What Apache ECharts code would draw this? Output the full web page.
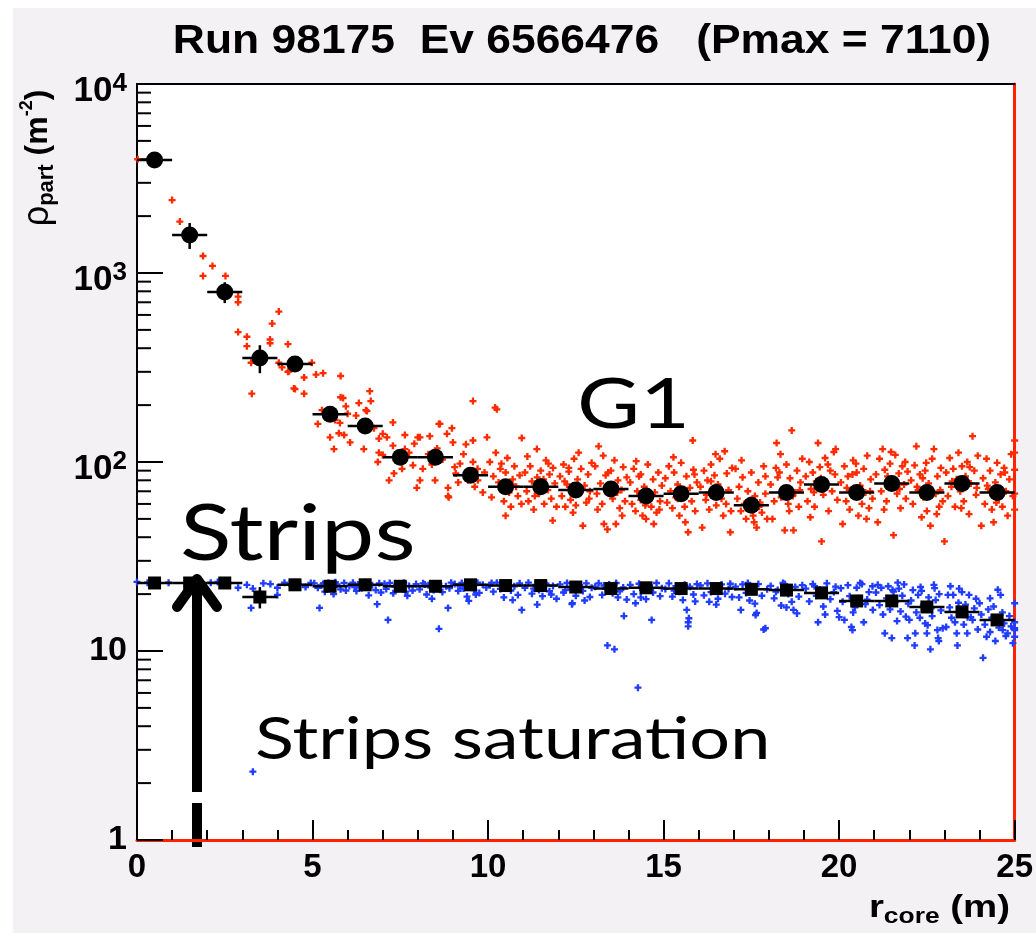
<!DOCTYPE html>
<html><head><meta charset="utf-8">
<script src="https://cdn.jsdelivr.net/npm/echarts@6/dist/echarts.min.js"></script>
<style>html,body{margin:0;padding:0;background:#fff}#c{width:1036px;height:933px}</style>
</head><body><div id="c"></div>
<script>
// ---- data ----
const rBins = [0.5,1.5,2.5,3.5,4.5,5.5,6.5,7.5,8.5,9.5,10.5,11.5,12.5,13.5,14.5,15.5,16.5,17.5,18.5,19.5,20.5,21.5,22.5,23.5,24.5];
const g1Values = [3960,1590,793,355,330,179,155,106,106,85,74,74,71,72,66,68,69,59,69,76,69,77,69,77,69];
const g1Errors = [150,250,100,60,25,15,12,8,8,6,5,5,4,4,4,4,4,4,4,4,4,4,4,4,4];
const stripValues = [22.9,22.9,22.9,19.3,22.4,22.0,22.4,22.0,22.0,22.4,22.2,22.2,21.8,21.4,21.6,21.4,21.4,21.2,21.0,20.3,18.4,18.4,17.1,16.1,14.6];
const stripErrors = [0.4,0.4,0.4,2.5,0.4,0.4,0.4,0.4,0.4,0.4,0.4,0.4,0.4,0.4,0.4,0.4,0.4,0.4,0.4,0.4,0.4,0.4,0.4,0.4,0.4];
const yMinorTickValues = [2,3,4,5,6,7,8,9,20,30,40,50,60,70,80,90,200,300,400,500,600,700,800,900,2000,3000,4000,5000,6000,7000,8000,9000];
const yTickLabels = {1:'{c|1}',10:'{c|10}',100:'{b|10}{s|2}',1000:'{b|10}{s|3}',10000:'{b|10}{s|4}'};
const titleText = 'Run 98175  Ev 6566476   (Pmax = 7110)';

const redPoints = [
[0.02,4000],[1.0,2430],[1.22,1870],[1.88,1230],[2.15,1090],[1.88,965],[2.52,965],[2.88,750],[2.88,700],[2.88,487],[3.13,460],[3.13,410],[3.27,230],[3.25,335],[3.79,445],[3.79,425],[3.85,540],[4.04,625],[4.3,420],[4.04,335],[4.13,317],[4.33,302],[4.3,300],[4.47,245],[4.5,243],[4.76,280],[4.76,230],[4.98,335],
[5.1,290],[5.3,295],[5.8,285],[5.8,220],[5.87,218],[5.15,159],[5.27,188],[5.64,167],[5.78,161],[6.0,180],[6.32,205],[6.52,188],[6.63,237],[6.66,210],[5.5,135],[5.61,117],[5.75,142],[5.9,139],[6.07,127],[6.24,176],[6.46,117],[6.75,151],[6.89,133],[6.89,112],[6.86,100],[6.55,186],[5.95,197],
[7.0,141],[7.12,135],[7.29,162],[7.0,109],[7.29,122],[7.63,139],[8.0,135],[8.34,137],[8.6,159],[8.97,151],[8.83,141],[9.0,127],[9.37,124],[9.57,210],[9.57,130],[9.97,135],[7.63,117],[7.86,96],[8.14,92],[7.32,87],[7.18,80],[8.06,80],[7.97,73],[8.49,80],[8.86,73],[9.05,94],[9.08,87],[9.43,80],[8.88,65],[9.71,80],[9.85,69],[9.57,100],[8.06,135],[8.63,159],[8.86,66],[7.45,104],[7.75,112],[8.3,110],[8.7,103],[9.2,98],[9.7,92],[7.55,92],[8.4,97],[9.3,110],[9.9,88],[7.9,125],[8.55,118],[9.15,78],[9.62,74],
[10.05,100],[10.1,65],[10.2,194],[10.25,190],[10.15,84],[10.3,78],[10.35,92],[10.4,71],[10.45,62],[10.5,88],[10.55,105],[10.6,69],[10.65,58],[10.7,81],[10.75,95],[10.8,74],[10.85,66],[10.9,85],[10.96,134],[10.95,60],[10.22,112],[10.5,52],[10.68,76],[10.38,98],
[11.05,88],[11.1,70],[11.15,62],[11.2,95],[11.25,79],[11.3,56],[11.39,117],[11.4,83],[11.45,68],[11.5,90],[11.55,74],[11.6,60],[11.65,102],[11.7,71],[11.75,86],[11.84,49],[11.8,64],[11.85,93],[11.9,77],[11.95,58],[11.12,107],[11.58,81],[11.33,66],[11.72,98],
[12.05,84],[12.1,66],[12.15,97],[12.2,58],[12.25,76],[12.3,89],[12.35,63],[12.4,72],[12.45,104],[12.5,59],[12.55,81],[12.6,68],[12.7,46],[12.65,92],[12.75,75],[12.8,61],[12.85,86],[12.9,70],[12.95,99],[12.18,79],[12.42,54],[12.58,112],[12.88,64],[12.3,93],
[13.05,95],[13.1,68],[13.15,121],[13.2,77],[13.25,60],[13.3,47],[13.35,85],[13.4,44],[13.45,73],[13.5,90],[13.55,64],[13.6,102],[13.64,47],[13.7,80],[13.75,57],[13.8,71],[13.85,94],[13.9,62],[13.95,83],[13.12,56],[13.42,88],[13.68,69],[13.28,108],[13.82,52],
[14.05,78],[14.1,60],[14.15,92],[14.2,55],[14.25,70],[14.3,84],[14.35,63],[14.4,52],[14.45,74],[14.5,50],[14.55,97],[14.6,66],[14.65,58],[14.7,81],[14.75,69],[14.8,54],[14.85,88],[14.9,62],[14.95,75],[14.22,101],[14.48,59],[14.72,47],[14.35,86],[14.88,56],
[15.05,82],[15.1,61],[15.15,95],[15.2,70],[15.25,57],[15.3,88],[15.35,65],[15.4,76],[15.45,52],[15.5,99],[15.55,69],[15.6,58],[15.65,84],[15.7,42.5],[15.75,73],[15.8,62],[15.83,130],[15.85,91],[15.9,55],[15.95,78],[15.28,106],[15.62,48],[15.4,64],[15.88,86],
[16.05,74],[16.1,45],[16.15,90],[16.2,63],[16.25,80],[16.3,56],[16.35,97],[16.4,68],[16.45,85],[16.5,59],[16.55,76],[16.6,104],[16.65,64],[16.74,114],[16.7,52],[16.8,87],[16.85,71],[16.9,42.5],[16.95,93],[16.22,67],[16.48,110],[16.78,60],[16.35,79],[16.92,55],
[17.05,92],[17.1,64],[17.15,74],[17.2,55],[17.25,83],[17.3,60],[17.35,50],[17.4,70],[17.45,57],[17.5,88],[17.55,52],[17.6,66],[17.65,45],[17.7,78],[17.75,61],[17.8,54],[17.85,95],[17.9,68],[17.95,50],[17.22,102],[17.48,63],[17.72,58],[17.58,48],[17.9,84],
[18.05,76],[18.1,50],[18.22,126],[18.25,83],[18.3,88],[18.35,65],[18.45,43.5],[18.4,72],[18.5,97],[18.55,60],[18.6,82],[18.65,147],[18.7,43.5],[18.75,69],[18.8,90],[18.85,58],[18.9,78],[18.95,104],[18.15,62],[18.2,93],[18.58,55],[18.88,71],[18.33,110],[18.68,66],
[19.05,84],[19.1,62],[19.15,100],[19.2,72],[19.25,88],[19.3,58],[19.4,126],[19.35,79],[19.45,94],[19.5,38],[19.55,67],[19.6,105],[19.65,76],[19.7,55],[19.75,90],[19.8,70],[19.85,113],[19.9,117],[19.95,63],[19.18,51],[19.48,82],[19.68,97],[19.28,69],[19.88,86],
[20.05,78],[20.1,47],[20.15,95],[20.2,62],[20.25,84],[20.3,56],[20.35,71],[20.4,102],[20.45,66],[20.5,88],[20.55,52],[20.6,75],[20.65,60],[20.7,92],[20.75,69],[20.8,108],[20.85,57],[20.9,81],[20.95,64],[20.22,73],[20.48,98],[20.78,50],[20.38,86],[20.88,70],
[21.05,86],[21.1,48],[21.15,104],[21.24,117],[21.2,70],[21.3,91],[21.35,62],[21.4,80],[21.45,98],[21.55,41],[21.5,74],[21.6,109],[21.65,68],[21.7,87],[21.75,57],[21.8,95],[21.85,76],[21.9,64],[21.95,89],[21.28,56],[21.48,113],[21.72,72],[21.38,84],[21.88,100],
[22.05,80],[22.1,60],[22.15,96],[22.2,121],[22.25,71],[22.35,51],[22.3,86],[22.4,65],[22.45,90],[22.5,55],[22.6,46],[22.55,77],[22.65,104],[22.7,117],[22.75,68],[22.8,84],[22.85,58],[22.9,93],[22.95,62],[22.22,74],[22.48,99],[22.78,53],[22.38,82],[22.88,71],
[23.0,38],[23.05,88],[23.1,66],[23.15,105],[23.2,74],[23.25,92],[23.3,58],[23.35,81],[23.4,112],[23.45,70],[23.5,95],[23.55,62],[23.6,84],[23.65,100],[23.7,53],[23.75,77],[23.8,137],[23.85,90],[23.9,67],[23.95,108],[23.22,79],[23.48,57],[23.72,94],[23.92,73],
[24.05,46],[24.1,82],[24.15,60],[24.2,104],[24.25,72],[24.3,90],[24.35,56],[24.4,48],[24.45,78],[24.5,99],[24.55,64],[24.6,86],[24.65,58],[24.7,93],[24.75,70],[24.8,52],[24.85,81],[24.9,110],[24.95,66],[24.22,75],[24.48,61],[24.72,88],[25.0,130],[25.0,112],[25.0,91],[25.0,68],[25.0,56]
];

const bluePoints = [
[0.0,23.2],[0.3,23.0],[0.5,23.2],[0.9,23.0],[1.5,23.2],[1.6,23.1],[2.1,23.0],[2.3,23.2],[2.6,22.9],[2.88,21.6],[3.13,22.4],[3.3,21.4],[3.25,16.9],[3.3,2.3],[3.6,22.8],[3.8,22.6],[4.0,19.8],[4.0,21.6],[4.2,23.0],[4.35,22.6],[4.5,23.1],[4.65,22.4],[4.8,21.8],[4.95,22.9],
[5.05,22.8],[5.15,21.6],[5.2,16.9],[5.25,22.2],[5.35,20.6],[5.45,23.0],[5.55,21.9],[5.6,20.0],[5.7,22.5],[5.8,21.2],[5.9,22.9],[5.95,20.9],[5.3,22.6],[5.65,23.1],
[6.05,22.1],[6.15,23.0],[6.25,20.8],[6.3,22.5],[6.4,21.5],[6.5,23.1],[6.6,19.7],[6.7,22.3],[6.84,17.7],[6.8,21.0],[6.9,22.8],[6.95,20.4],[6.45,22.0],[6.2,21.8],
[7.05,22.7],[7.15,14.6],[7.1,21.3],[7.2,22.9],[7.3,20.2],[7.4,22.4],[7.5,21.6],[7.6,23.0],[7.7,19.6],[7.75,22.1],[7.85,20.9],[7.95,22.6],[7.35,21.9],[7.65,20.6],
[8.05,21.2],[8.15,22.8],[8.25,19.9],[8.3,22.3],[8.45,21.0],[8.6,13.1],[8.6,22.7],[8.7,20.5],[8.8,22.0],[8.86,16.9],[8.9,21.5],[8.95,23.0],[8.4,18.9],[8.2,22.5],
[9.05,22.6],[9.15,20.8],[9.25,22.9],[9.3,21.4],[9.4,19.4],[9.5,22.2],[9.6,21.0],[9.7,23.0],[9.75,20.3],[9.85,22.4],[9.95,21.7],[9.45,18.4],[9.2,22.0],[9.65,19.9],
[10.05,22.3],[10.15,20.6],[10.25,23.0],[10.35,21.3],[10.45,19.2],[10.55,22.6],[10.65,20.9],[10.75,22.0],[10.85,19.8],[10.96,16.5],[10.9,22.8],[10.4,21.8],[10.7,18.6],[10.1,22.9],
[11.05,21.6],[11.15,23.0],[11.25,20.1],[11.35,22.4],[11.45,21.0],[11.55,19.5],[11.65,22.7],[11.75,20.7],[11.85,22.1],[11.95,18.9],[11.3,21.4],[11.6,22.9],[11.8,19.9],[11.4,17.6],
[12.05,22.5],[12.15,20.4],[12.25,22.9],[12.39,17.7],[12.4,17.9],[12.35,21.2],[12.5,19.6],[12.6,22.3],[12.7,20.8],[12.8,22.8],[12.9,19.3],[12.95,21.6],[12.45,22.0],[12.75,18.5],[12.2,21.0],
[13.05,21.9],[13.15,22.8],[13.25,19.8],[13.35,21.3],[13.4,10.7],[13.45,22.5],[13.55,20.2],[13.6,10.2],[13.65,22.9],[13.75,20.7],[13.87,15.3],[13.85,21.7],[13.95,18.7],[13.3,22.2],[13.7,19.2],
[14.05,22.4],[14.15,20.0],[14.2,17.9],[14.27,6.4],[14.3,22.7],[14.4,21.0],[14.5,18.8],[14.6,22.2],[14.66,14.6],[14.7,20.4],[14.8,22.9],[14.9,19.5],[14.95,21.5],[14.35,19.2],[14.55,21.8],
[15.05,21.3],[15.15,22.8],[15.25,19.4],[15.35,22.0],[15.45,20.6],[15.55,18.6],[15.66,16.5],[15.7,14.2],[15.7,13.5],[15.72,14.9],[15.75,21.9],[15.85,19.9],[15.95,22.6],[15.3,20.9],[15.6,22.4],[15.9,18.3],
[16.05,22.2],[16.15,19.7],[16.25,22.8],[16.35,20.5],[16.45,21.7],[16.55,18.9],[16.65,22.5],[16.75,20.1],[16.85,21.3],[16.95,19.3],[16.3,18.2],[16.6,22.0],[16.9,22.7],[16.5,17.6],
[17.05,21.9],[17.15,19.2],[17.2,16.5],[17.25,22.5],[17.35,20.3],[17.45,18.5],[17.55,21.6],[17.65,15.9],[17.62,15.5],[17.7,22.6],[17.85,13.0],[17.9,13.2],[17.8,19.6],[17.95,21.2],[17.4,22.9],[17.6,17.8],
[18.05,22.1],[18.15,19.0],[18.25,21.0],[18.35,17.4],[18.45,22.6],[18.55,20.0],[18.65,18.2],[18.7,16.5],[18.75,21.8],[18.85,19.4],[18.95,22.3],[18.2,20.6],[18.5,17.0],[18.8,15.8],[18.4,22.9],
[19.05,21.4],[19.15,18.3],[19.25,22.6],[19.35,19.6],[19.4,14.2],[19.45,21.1],[19.55,17.2],[19.65,22.8],[19.75,18.8],[19.85,20.5],[19.95,16.3],[19.3,22.0],[19.6,15.6],[19.9,21.9],[19.5,19.9],
[20.0,15.1],[20.15,14.6],[20.35,13.4],[20.38,12.9],[20.7,14.2],[20.96,16.5],[20.05,21.5],[20.1,18.2],[20.25,22.3],[20.3,19.5],[20.45,17.0],[20.5,21.6],[20.55,19.0],[20.65,22.6],[20.75,17.7],[20.85,20.5],[20.95,22.0],[20.4,16.0],[20.8,18.7],[20.6,22.9],
[21.3,12.4],[21.5,11.7],[21.95,11.7],[21.05,20.4],[21.1,22.4],[21.15,17.5],[21.2,21.6],[21.25,15.6],[21.35,19.0],[21.4,22.0],[21.45,16.6],[21.55,20.6],[21.6,18.2],[21.65,14.4],[21.7,21.4],[21.75,16.2],[21.8,19.6],[21.85,22.5],[21.9,15.2],[21.97,17.8],[21.52,21.0],[21.67,23.0],
[22.0,14.6],[22.15,10.7],[22.17,12.4],[22.5,12.4],[22.52,13.7],[22.6,10.2],[22.7,22.4],[22.72,21.5],[22.8,12.9],[22.82,11.7],[22.84,11.3],[22.05,18.5],[22.1,21.0],[22.2,16.0],[22.25,19.8],[22.3,15.0],[22.35,20.8],[22.4,17.6],[22.45,14.0],[22.55,19.2],[22.62,16.8],[22.65,15.3],[22.75,18.6],[22.85,20.0],[22.9,16.4],[22.95,13.2],[22.32,21.8],
[23.05,13.4],[23.35,12.4],[23.37,10.7],[23.65,12.4],[23.66,15.1],[23.75,15.1],[23.1,19.8],[23.15,17.0],[23.2,15.0],[23.25,19.8],[23.3,14.2],[23.4,18.0],[23.45,16.3],[23.5,20.5],[23.55,13.8],[23.6,17.6],[23.7,19.8],[23.8,14.6],[23.85,16.8],[23.9,18.9],[23.95,13.0],[23.42,21.4],[23.17,22.0],
[24.0,17.9],[24.1,9.2],[24.2,11.9],[24.45,11.3],[24.5,14.2],[24.6,19.8],[24.66,12.9],[24.8,12.4],[24.52,21.1],[24.05,15.6],[24.15,13.8],[24.25,16.6],[24.3,12.6],[24.35,15.0],[24.4,17.2],[24.55,13.3],[24.65,16.0],[24.7,14.0],[24.75,12.0],[24.85,15.3],[24.9,13.5],[24.95,11.0],[25.0,17.9],[25.0,11.9],[25.0,12.9],[25.0,14.2],[25.0,13.2],[24.3,19.0]
];

// ---- chart ----
const chart = echarts.init(document.getElementById('c'), null, {renderer:'canvas', width:1036, height:933});
const FONT = '"Liberation Sans", Arial, sans-serif';
const ANNOT = 'Lato, "Open Sans", sans-serif';
const plusPath = 'path://M2,0H4V2H6V4H4V6H2V4H0V2H2Z';

const g1Data = rBins.map((r,i)=>[r,g1Values[i]]);
const stripData = rBins.map((r,i)=>[r,stripValues[i]]);
const g1ErrData = rBins.map((r,i)=>[r,g1Values[i],g1Errors[i]]);
const stripErrData = rBins.map((r,i)=>[r,stripValues[i],stripErrors[i]]);

function errRender(params, api){
  const x = api.value(0), y = api.value(1), e = api.value(2);
  const l = api.coord([x-0.5,y]), r = api.coord([x+0.5,y]);
  const t = api.coord([x,y+e]), b = api.coord([x,y-e]);
  const st = {stroke:'#000', lineWidth:2.5};
  return {type:'group', children:[
    {type:'line', shape:{x1:l[0],y1:l[1],x2:r[0],y2:r[1]}, style:st},
    {type:'line', shape:{x1:t[0],y1:t[1],x2:b[0],y2:b[1]}, style:st}
  ]};
}

const option = {
  animation:false,
  backgroundColor:'#f4f1f5',
  grid:{left:137, top:84, right:21, bottom:93, show:true, backgroundColor:'#ffffff', borderWidth:0},
  xAxis:[{
    type:'value', min:0, max:25, interval:5, position:'bottom',
    axisLine:{show:true, onZero:false, lineStyle:{color:'#ff2200', width:3}},
    axisTick:{show:true, inside:true, length:20, lineStyle:{color:'#000', width:2}},
    minorTick:{show:true, splitNumber:5, length:10, lineStyle:{color:'#000', width:2}},
    splitLine:{show:false},
    axisLabel:{fontFamily:FONT, fontWeight:'bold', fontSize:33, color:'#000', margin:11, showMinLabel:true, showMaxLabel:true}
  },{
    type:'value', min:0, max:25, position:'top',
    axisLine:{show:true, onZero:false, lineStyle:{color:'#000', width:2}},
    axisTick:{show:false}, axisLabel:{show:false}, splitLine:{show:false}
  }],
  yAxis:[{
    type:'log', logBase:10, min:1, max:10000, position:'left',
    axisLine:{show:true, onZero:false, lineStyle:{color:'#000', width:2}},
    axisTick:{show:true, inside:true, length:26, lineStyle:{color:'#000', width:2}},
    splitLine:{show:false},
    axisLabel:{
      margin:10, color:'#000', showMinLabel:true, showMaxLabel:true,
      formatter:v=>yTickLabels[Math.round(v)] || '',
      rich:{
        b:{fontFamily:FONT, fontWeight:'bold', fontSize:35, lineHeight:34, verticalAlign:'bottom', color:'#000'},
        s:{fontFamily:FONT, fontWeight:'bold', fontSize:26, lineHeight:50, verticalAlign:'middle', color:'#000'},
        c:{fontFamily:FONT, fontWeight:'bold', fontSize:34, lineHeight:34, color:'#000'}
      }
    }
  },{
    type:'value', min:0, max:1, position:'right',
    axisLine:{show:true, onZero:false, lineStyle:{color:'#ff2200', width:3}},
    axisTick:{show:false}, axisLabel:{show:false}, splitLine:{show:false}
  }],
  series:[
    {type:'custom', name:'yMinor', xAxisIndex:0, yAxisIndex:0, silent:true, z:1,
     data:yMinorTickValues.map(v=>[0,v]), encode:{x:0,y:1},
     renderItem:(p,api)=>{const c=api.coord([api.value(0),api.value(1)]);
       return {type:'line', shape:{x1:c[0],y1:c[1],x2:c[0]+14,y2:c[1]}, style:{stroke:'#000', lineWidth:2}};}},
    {type:'scatter', name:'G1 detectors', data:redPoints, symbol:plusPath, symbolSize:7, itemStyle:{color:'#ff2a00', opacity:1}, z:2},
    {type:'scatter', name:'Strips detectors', data:bluePoints, symbol:plusPath, symbolSize:7, itemStyle:{color:'#1f3cff', opacity:1}, z:2},
    {type:'custom', name:'G1 err', data:g1ErrData, encode:{x:0,y:1}, renderItem:errRender, z:3},
    {type:'custom', name:'Strips err', data:stripErrData, encode:{x:0,y:1}, renderItem:errRender, z:3},
    {type:'scatter', name:'G1 mean', data:g1Data, symbol:'circle', symbolSize:17, itemStyle:{color:'#000', opacity:1}, z:4},
    {type:'scatter', name:'Strips mean', data:stripData, symbol:'rect', symbolSize:13, itemStyle:{color:'#000', opacity:1}, z:4}
  ],
  graphic:[
    {type:'rect', shape:{x:0,y:0,width:13,height:933}, style:{fill:'#fff'}, silent:true},
    {type:'rect', shape:{x:0,y:0,width:1036,height:8}, style:{fill:'#fff'}, silent:true},
    {type:'text', x:582, y:42, scaleX:1.2, scaleY:1.08, style:{text:titleText, fontFamily:FONT, fontWeight:'bold', fontSize:37, fill:'#000', align:'center', verticalAlign:'middle'}},
    {type:'text', x:38, y:158, rotation:Math.PI/2, style:{
      text:'{r|ρ}{p|part}{b| (m}{s|-2}{b|)}', align:'center', verticalAlign:'middle', fill:'#000',
      rich:{
        r:{fontFamily:FONT, fontSize:36, lineHeight:40, verticalAlign:'middle', fill:'#000'},
        p:{fontFamily:FONT, fontWeight:'bold', fontSize:22, lineHeight:16, verticalAlign:'bottom', fill:'#000'},
        b:{fontFamily:FONT, fontWeight:'bold', fontSize:32, lineHeight:40, verticalAlign:'middle', fill:'#000'},
        s:{fontFamily:FONT, fontWeight:'bold', fontSize:18, lineHeight:12, verticalAlign:'top', fill:'#000'}
      }}},
    {type:'text', x:1010, y:908, scaleX:1.2, style:{
      text:'{b|r}{p|core}{b| (m)}', align:'right', verticalAlign:'middle', fill:'#000',
      rich:{
        b:{fontFamily:FONT, fontWeight:'bold', fontSize:32, lineHeight:40, verticalAlign:'middle', fill:'#000'},
        p:{fontFamily:FONT, fontWeight:'bold', fontSize:22, lineHeight:20, verticalAlign:'bottom', fill:'#000'}
      }}},
    {type:'text', x:577, y:406, scaleX:1.25, z:100, style:{text:'G1', fontFamily:ANNOT, fontSize:69, fill:'#000', align:'left', verticalAlign:'middle'}},
    {type:'text', x:180, y:535, scaleX:1.22, z:100, style:{text:'Strips', fontFamily:ANNOT, fontSize:78, fill:'#000', align:'left', verticalAlign:'middle'}},
    {type:'text', x:255, y:740, scaleX:1.22, z:100, style:{text:'Strips saturation', fontFamily:ANNOT, fontSize:59, fill:'#000', align:'left', verticalAlign:'middle'}},
    {type:'group', z:100, children:[
      {type:'line', shape:{x1:197,y1:582,x2:197,y2:792}, style:{stroke:'#000', lineWidth:10}},
      {type:'polyline', shape:{points:[[177,607],[197,579],[217,607]]}, style:{stroke:'#000', lineWidth:10, lineCap:'round', lineJoin:'round', fill:null}},
      {type:'line', shape:{x1:197,y1:803,x2:197,y2:847}, style:{stroke:'#000', lineWidth:10}}
    ]}
  ]
};
chart.setOption(option);
</script></body></html>
